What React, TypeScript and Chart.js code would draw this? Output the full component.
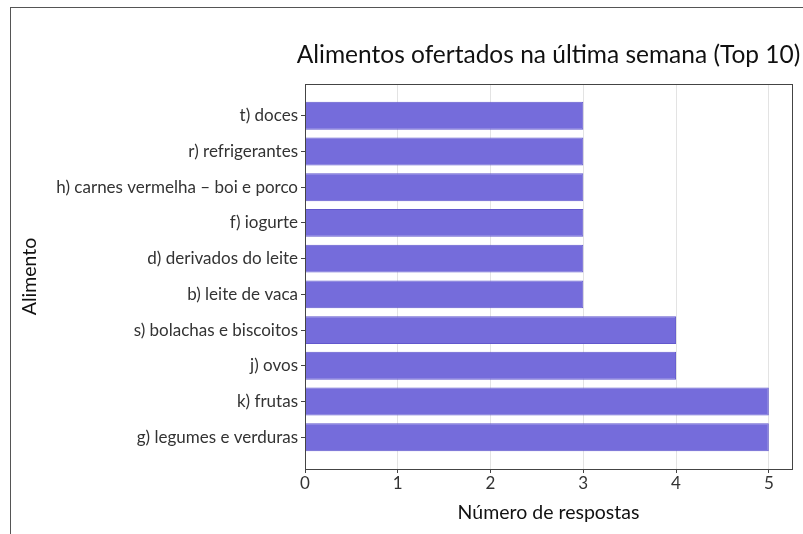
import React, { useEffect, useRef } from "react";
import { Chart, registerables } from "chart.js";

Chart.register(...registerables);

const titleText = "Alimentos ofertados na última semana (Top 10)";
const categories = [
  "t) doces",
  "r) refrigerantes",
  "h) carnes vermelha – boi e porco",
  "f) iogurte",
  "d) derivados do leite",
  "b) leite de vaca",
  "s) bolachas e biscoitos",
  "j) ovos",
  "k) frutas",
  "g) legumes e verduras",
];
const respostas = [3, 3, 3, 3, 3, 3, 4, 4, 5, 5];
const xTicks = [0, 1, 2, 3, 4, 5];

const frame = {
  id: "frame",
  afterDraw(chart: any) {
    const { ctx, chartArea } = chart;
    ctx.save();
    ctx.strokeStyle = "#444";
    ctx.lineWidth = 1;
    ctx.strokeRect(
      Math.round(chartArea.left) + 0.5,
      Math.round(chartArea.top) + 0.5,
      Math.round(chartArea.right - chartArea.left),
      Math.round(chartArea.bottom - chartArea.top)
    );
    ctx.fillStyle = "#111";
    ctx.font = "24.5px Lato";
    ctx.textAlign = "center";
    ctx.textBaseline = "middle";
    ctx.fillText(titleText, (chartArea.left + chartArea.right) / 2, 47);
    ctx.restore();
  },
};

export default function App() {
  const ref = useRef<HTMLCanvasElement>(null);
  useEffect(() => {
    if (!ref.current) return;
    const chart = new Chart(ref.current, {
      type: "bar",
      data: {
        datasets: [
          {
            data: respostas.map((v, i) => ({ x: v, y: i })),
            backgroundColor: "rgb(117,108,219)",
            borderColor: "rgb(98,88,205)",
            borderWidth: 1,
            barPercentage: 0.78,
            categoryPercentage: 1,
          },
        ],
      },
      options: {
        indexAxis: "y",
        animation: false,
        responsive: false,
        maintainAspectRatio: false,
        layout: { padding: { left: 0, right: 11, top: 76, bottom: 0 } },
        plugins: {
          legend: { display: false },
          tooltip: { enabled: false },
          title: { display: false },
        },
        scales: {
          x: {
            type: "linear",
            min: 0,
            max: 5.25,
            afterBuildTicks: (s: any) => {
              s.ticks = xTicks.map((v) => ({ value: v }));
            },
            afterFit: (s: any) => {
              s.height = 65;
            },
            grid: {
              color: "#e3e3e3",
              drawTicks: true,
              tickLength: 4,
              tickColor: "#444",
            },
            border: { display: false },
            ticks: {
              color: "#333",
              font: { family: "Lato", size: 17 },
              padding: 0,
            },
            title: {
              display: true,
              text: "Número de respostas",
              color: "#111",
              font: { family: "Lato", size: 19.5 },
              padding: { top: 4, bottom: 10 },
            },
          },
          y: {
            type: "linear",
            reverse: true,
            offset: false,
            min: -0.89,
            max: 9.89,
            afterBuildTicks: (s: any) => {
              s.ticks = categories.map((_, i) => ({ value: i }));
            },
            afterFit: (s: any) => {
              s.width = 294;
            },
            grid: {
              display: true,
              offset: false,
              drawOnChartArea: false,
              drawTicks: true,
              tickLength: 4,
              tickColor: "#444",
            },
            border: { display: false },
            ticks: {
              color: "#333",
              font: { family: "Lato", size: 17 },
              padding: 3,
              autoSkip: false,
              callback: (v: any) => categories[v as number] ?? "",
            },
            title: {
              display: true,
              text: "Alimento",
              color: "#111",
              font: { family: "Lato", size: 19.5 },
              padding: { top: 7, bottom: 4 },
            },
          },
        },
      },
      plugins: [frame],
    });
    return () => chart.destroy();
  }, []);
  return (
    <div
      style={{
        position: "fixed",
        left: 10,
        top: 7,
        width: 793,
        height: 527,
        borderTop: "1px solid #555",
        borderLeft: "1px solid #555",
        background: "#fff",
      }}
    >
      <canvas ref={ref} width={792} height={526} style={{ display: "block" }} />
    </div>
  );
}
